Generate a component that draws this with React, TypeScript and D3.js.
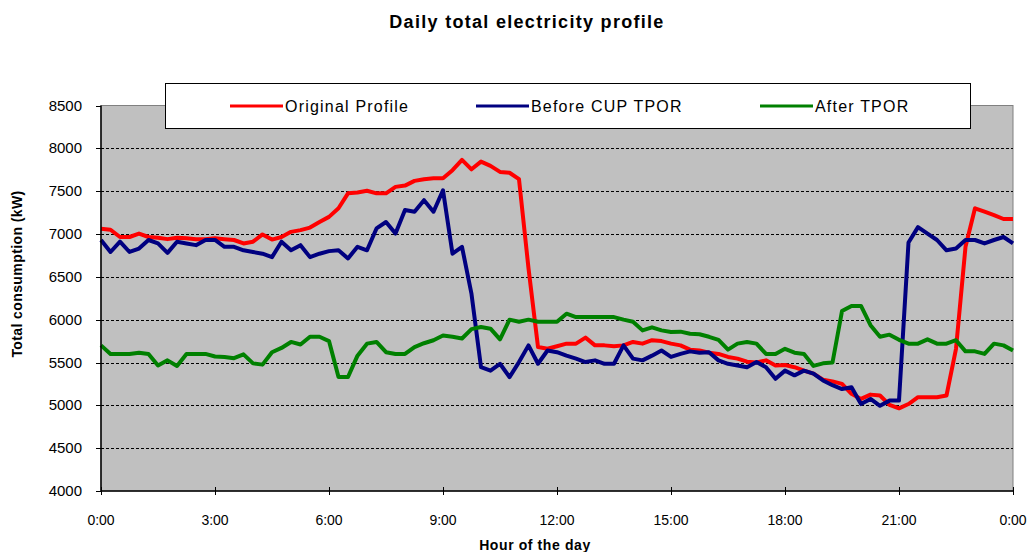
import React, { useEffect, useRef } from 'react';
import * as d3 from 'd3';

// 15-minute readings, 0:00 .. 24:00 (97 values per series)
const originalProfile = [
  7060, 7050, 6965, 6965, 7005, 6965, 6955, 6940, 6955, 6950, 6940, 6940, 6950, 6940, 6930, 6890, 6910, 6995, 6935, 6965, 7025, 7045, 7075, 7140,
  7200, 7300, 7475, 7485, 7505, 7475, 7475, 7550, 7565, 7620, 7640, 7650, 7650, 7745, 7865, 7755, 7845, 7795, 7725, 7715, 7640, 6600, 5680, 5660,
  5690, 5720, 5720, 5790, 5700, 5700, 5690, 5700, 5740, 5720, 5760, 5750, 5720, 5700, 5650, 5640, 5615, 5600, 5565, 5545, 5510, 5500, 5525, 5465,
  5470, 5445, 5405, 5370, 5300, 5280, 5250, 5135, 5075, 5125, 5115, 5005, 4965, 5015, 5095, 5095, 5095, 5115, 5660, 6850, 7300, 7260, 7220, 7175,
  7175,
];

const beforeCupTpor = [
  6930, 6790, 6910, 6790, 6830, 6930, 6890, 6780, 6910, 6890, 6870, 6930, 6930, 6850, 6850, 6810, 6790, 6770, 6730, 6910, 6810, 6870, 6730, 6770,
  6800, 6810, 6715, 6850, 6810, 7065, 7140, 7005, 7280, 7260, 7395, 7260, 7510, 6770, 6850, 6300, 5445, 5405, 5485, 5330, 5505, 5700, 5485, 5640,
  5620, 5580, 5545, 5505, 5525, 5485, 5485, 5700, 5545, 5525, 5580, 5640, 5565, 5600, 5630, 5615, 5620, 5525, 5485, 5465, 5445, 5505, 5445, 5310,
  5405, 5350, 5405, 5370, 5290, 5235, 5190, 5210, 5015, 5075, 4995, 5055, 5055, 6900, 7080, 7005, 6930, 6810, 6830, 6930, 6930, 6890, 6930, 6965,
  6890,
];

const afterTpor = [
  5700, 5600, 5600, 5600, 5615, 5600, 5465, 5525, 5460, 5600, 5600, 5600, 5570, 5565, 5550, 5595, 5490, 5475, 5620, 5670, 5740, 5710, 5800, 5800,
  5750, 5330, 5330, 5580, 5720, 5740, 5620, 5600, 5600, 5680, 5725, 5760, 5815, 5800, 5780, 5890, 5915, 5895, 5770, 6000, 5975, 6000, 5975, 5975,
  5975, 6070, 6030, 6030, 6030, 6030, 6030, 6000, 5975, 5875, 5910, 5875, 5855, 5860, 5835, 5830, 5800, 5765, 5650, 5720, 5740, 5720, 5600, 5600,
  5660, 5615, 5600, 5460, 5490, 5500, 6100, 6160, 6160, 5935, 5800, 5825, 5765, 5720, 5720, 5770, 5720, 5720, 5760, 5630, 5630, 5600, 5720, 5700,
  5640,
];

const seriesNames = ['Original Profile', 'Before CUP TPOR', 'After TPOR'];
const seriesColors = ['#FF0000', '#000080', '#008000'];
const xTickHours = [0, 3, 6, 9, 12, 15, 18, 21, 24];
const xTickLabels = ['0:00', '3:00', '6:00', '9:00', '12:00', '15:00', '18:00', '21:00', '0:00'];
const yTicks = [4000, 4500, 5000, 5500, 6000, 6500, 7000, 7500, 8000, 8500];

const WIDTH = 1027;
const HEIGHT = 552;
const PLOT = { left: 101, right: 1013, top: 105.5, bottom: 491 };
const FONT = '"Liberation Sans", Arial, sans-serif';

const App: React.FC = () => {
  const svgRef = useRef<SVGSVGElement>(null);

  useEffect(() => {
    if (!svgRef.current) return;
    const svg = d3.select(svgRef.current);
    svg.selectAll('*').remove();

    const x = d3.scaleLinear().domain([0, 24]).range([PLOT.left, PLOT.right]);
    const y = d3.scaleLinear().domain([4000, 8500]).range([PLOT.bottom, PLOT.top]);

    svg.append('rect').attr('width', WIDTH).attr('height', HEIGHT).attr('fill', '#fff');

    // plot area
    svg.append('rect')
      .attr('x', PLOT.left).attr('y', PLOT.top)
      .attr('width', PLOT.right - PLOT.left).attr('height', PLOT.bottom - PLOT.top)
      .attr('fill', '#C0C0C0').attr('stroke', '#808080').attr('stroke-width', 1);

    // dashed gridlines
    svg.append('g').selectAll('line')
      .data(yTicks.filter(v => v > 4000 && v < 8500))
      .join('line')
      .attr('x1', PLOT.left - 5).attr('x2', PLOT.right)
      .attr('y1', d => Math.round(y(d)) + 0.5).attr('y2', d => Math.round(y(d)) + 0.5)
      .attr('stroke', '#000').attr('stroke-width', 1).attr('stroke-dasharray', '3 2');

    // series
    const line = d3.line<number>()
      .x((_, i) => x(i * 0.25))
      .y(d => y(d));

    [originalProfile, beforeCupTpor, afterTpor].forEach((data, k) => {
      svg.append('path')
        .datum(data)
        .attr('d', line)
        .attr('fill', 'none')
        .attr('stroke', seriesColors[k])
        .attr('stroke-width', 4)
        .attr('stroke-linejoin', 'round');
    });

    // y axis
    svg.append('line')
      .attr('x1', PLOT.left).attr('x2', PLOT.left)
      .attr('y1', PLOT.top).attr('y2', PLOT.bottom + 0.5)
      .attr('stroke', '#000').attr('stroke-width', 1.5);
    svg.append('g').selectAll('line')
      .data(yTicks)
      .join('line')
      .attr('x1', PLOT.left - 5).attr('x2', PLOT.left)
      .attr('y1', d => Math.round(y(d)) + 0.5).attr('y2', d => Math.round(y(d)) + 0.5)
      .attr('stroke', '#000');
    svg.append('g').selectAll('text')
      .data(yTicks)
      .join('text')
      .attr('x', 82).attr('y', d => y(d) + 5)
      .attr('text-anchor', 'end')
      .attr('font-family', FONT).attr('font-size', 15)
      .attr('fill', '#000')
      .text(d => String(d));

    // x axis
    svg.append('line')
      .attr('x1', PLOT.left).attr('x2', PLOT.right)
      .attr('y1', PLOT.bottom).attr('y2', PLOT.bottom)
      .attr('stroke', '#000').attr('stroke-width', 1.5);
    svg.append('g').selectAll('line')
      .data(xTickHours)
      .join('line')
      .attr('x1', d => Math.round(x(d)) + 0.5).attr('x2', d => Math.round(x(d)) + 0.5)
      .attr('y1', PLOT.bottom - 4).attr('y2', PLOT.bottom + 4)
      .attr('stroke', '#000');
    svg.append('g').selectAll('text')
      .data(xTickHours)
      .join('text')
      .attr('x', d => x(d)).attr('y', 525)
      .attr('text-anchor', 'middle')
      .attr('font-family', FONT).attr('font-size', 14)
      .attr('fill', '#000')
      .text((_, i) => xTickLabels[i]);

    // titles
    svg.append('text')
      .attr('x', 527).attr('y', 28)
      .attr('text-anchor', 'middle')
      .attr('font-family', FONT).attr('font-size', 18).attr('font-weight', 'bold')
      .attr('letter-spacing', 1.3)
      .text('Daily total electricity profile');
    svg.append('text')
      .attr('x', 535).attr('y', 550)
      .attr('text-anchor', 'middle')
      .attr('font-family', FONT).attr('font-size', 14).attr('font-weight', 'bold')
      .attr('letter-spacing', 0.6)
      .text('Hour of the day');
    svg.append('text')
      .attr('transform', 'translate(22,274) rotate(-90)')
      .attr('text-anchor', 'middle')
      .attr('font-family', FONT).attr('font-size', 14).attr('font-weight', 'bold')
      .attr('letter-spacing', 0.4)
      .text('Total consumption (kW)');

    // legend
    const legend = svg.append('g');
    legend.append('rect')
      .attr('x', 165.5).attr('y', 83.5).attr('width', 805).attr('height', 45)
      .attr('fill', '#fff').attr('stroke', '#000').attr('stroke-width', 1);
    const legendX = [230, 476, 760];
    seriesNames.forEach((name, k) => {
      legend.append('line')
        .attr('x1', legendX[k]).attr('x2', legendX[k] + 53)
        .attr('y1', 106).attr('y2', 106)
        .attr('stroke', seriesColors[k]).attr('stroke-width', 3);
      legend.append('text')
        .attr('x', legendX[k] + 55).attr('y', 112)
        .attr('font-family', FONT).attr('font-size', 16)
        .attr('letter-spacing', 1.2)
        .attr('fill', '#000')
        .text(name);
    });
  }, []);

  return (
    <svg
      ref={svgRef}
      width={WIDTH}
      height={HEIGHT}
      style={{ position: 'absolute', left: 0, top: 0, display: 'block' }}
    />
  );
};

export default App;
